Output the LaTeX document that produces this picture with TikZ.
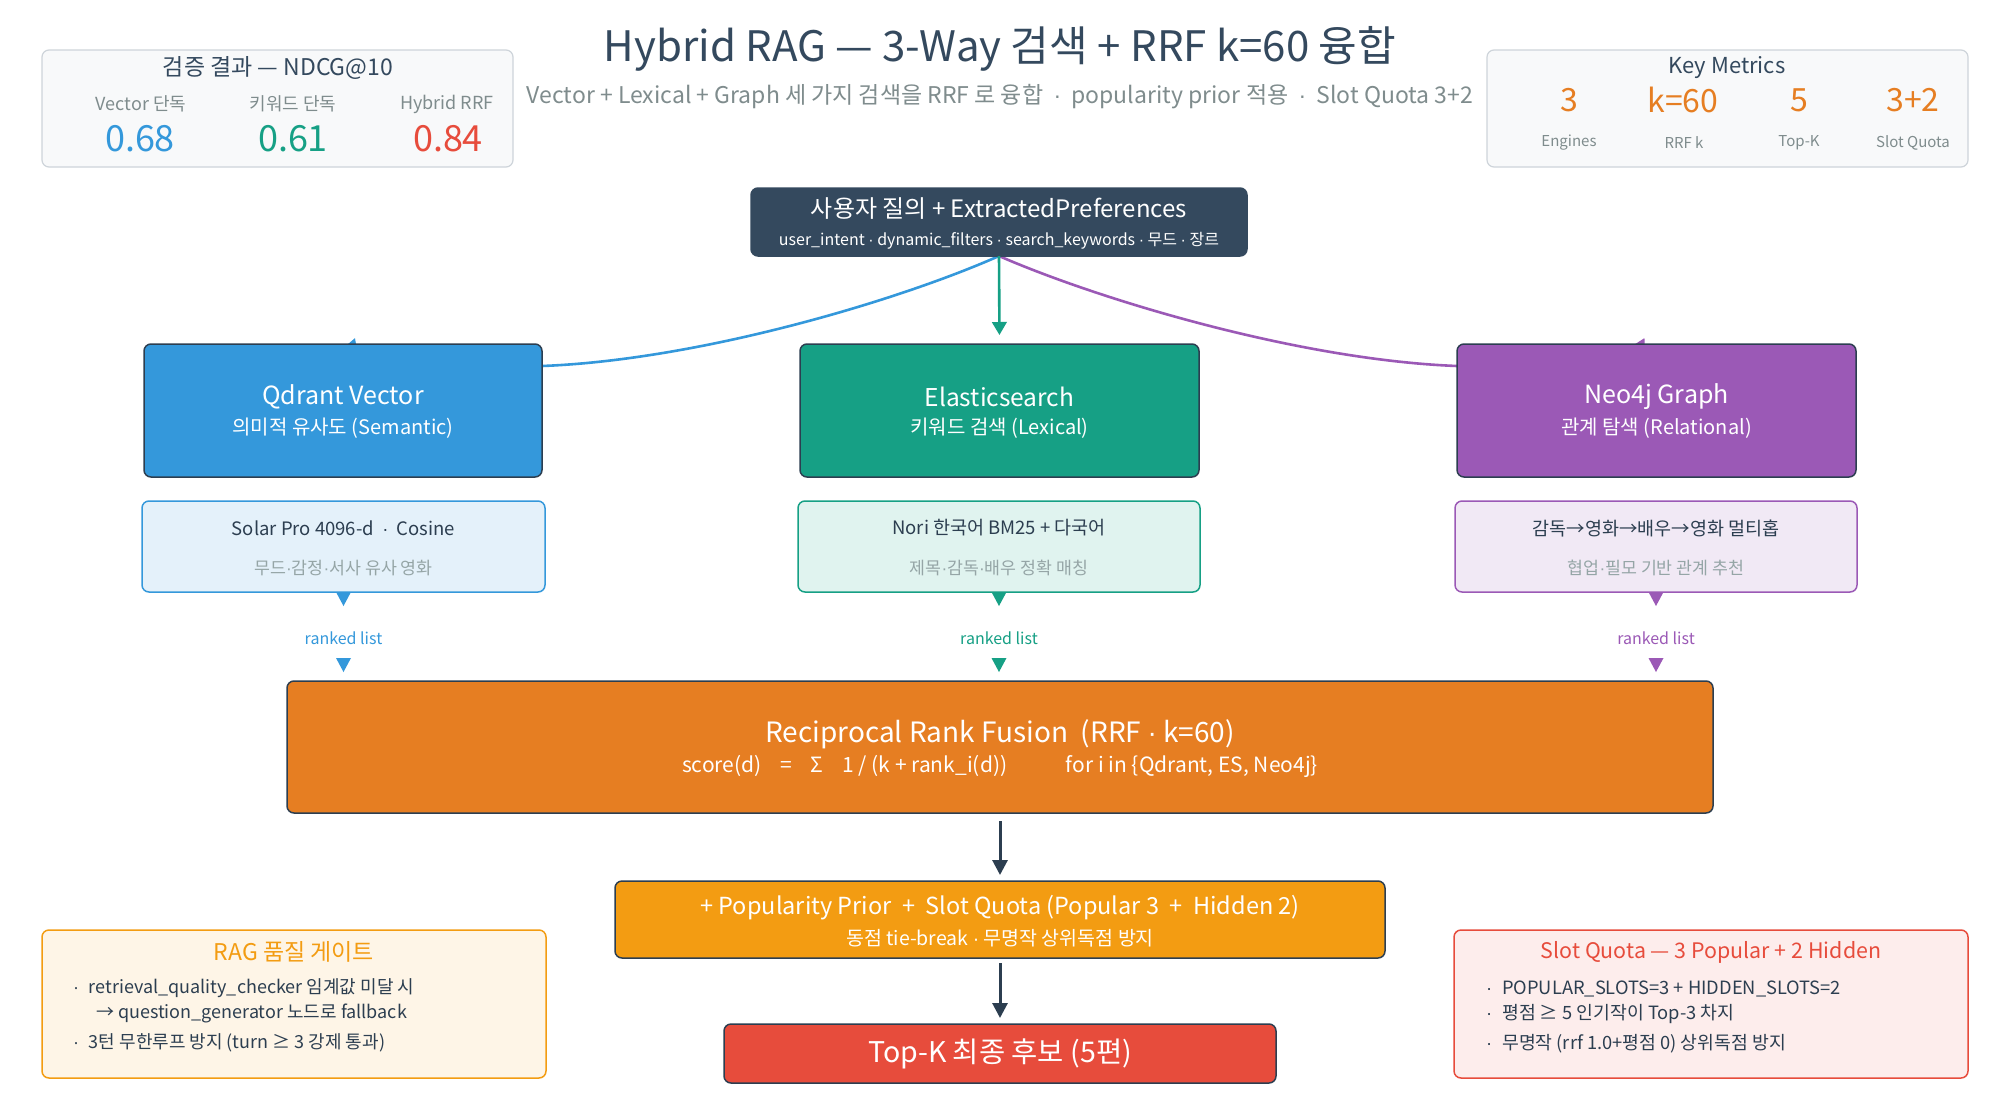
\documentclass[tikz,border=0pt]{standalone}
\usepackage{fontspec}
\setmainfont{Noto Sans CJK KR}
\newfontfamily\libfont{Liberation Sans}
\usetikzlibrary{arrows.meta}
\pgfdeclarelayer{bg}
\pgfsetlayers{bg,main}
\definecolor{cdark}{HTML}{2C3E50}
\definecolor{cnavy}{HTML}{34495E}
\definecolor{cgrey}{HTML}{7F8C8D}
\definecolor{clgrey}{HTML}{95A5A6}
\definecolor{cblue}{HTML}{3498DB}
\definecolor{cgreen}{HTML}{16A085}
\definecolor{cpurple}{HTML}{9B59B6}
\definecolor{corange}{HTML}{E67E22}
\definecolor{cyellow}{HTML}{F39C12}
\definecolor{cred}{HTML}{E74C3C}
\definecolor{cmfill}{HTML}{F8F9FA}
\definecolor{cmborder}{HTML}{CED4DA}
\definecolor{cbluel}{HTML}{E4F1FA}
\definecolor{cgreenl}{HTML}{E0F3EF}
\definecolor{cpurplel}{HTML}{F1E9F5}
\definecolor{cyellowl}{HTML}{FEF5E7}
\definecolor{credl}{HTML}{FDEDEC}
\newcommand\fsz[1]{\fontsize{#1}{#1}\selectfont}
\newcommand\mdot{{\libfont ·}}
\begin{document}
\begin{tikzpicture}[x=1pt,y=-1pt,
  box/.style={rounded corners=7pt, inner sep=0pt, outer sep=0pt, line width=1.5pt},
  txt/.style={inner sep=0pt, outer sep=0pt},
  bul/.style={inner sep=0pt, outer sep=0pt, anchor=west, text=cdark},
  rankarrow/.style={line width=0pt, -{Triangle[length=14pt,width=15pt]}},
  darkarrow/.style={draw=cdark, line width=3pt, -{Triangle[length=15pt,width=15pt]}},
  curve/.style={line width=2.6pt, -{Triangle[length=13pt,width=14pt]}}
]
\useasboundingbox (0,0) rectangle (2000,1119);
\begin{pgfonlayer}{bg}
\fill[white] (0,0) rectangle (2000,1119);
\end{pgfonlayer}

% title
\node[txt, text=cnavy] (title) at (1000,49) {\fsz{42}Hybrid RAG — 3-Way 검색 + RRF k=60 융합};
\node[txt, text=cgrey] (subtitle) at (1000,97) {\fsz{23}Vector + Lexical + Graph 세 가지 검색을 RRF 로 융합\ \ \mdot\ \ popularity prior 적용\ \ \mdot\ \ Slot Quota 3+2};

% left metrics
\node[box, draw=cmborder, line width=1.2pt, fill=cmfill, minimum width=471pt, minimum height=117pt] (m1) at (277.5,108.5) {};
\node[txt, text=cnavy] (m1t) at (278,68) {\fsz{23}검증 결과 — NDCG@10};
\node[txt, text=cgrey] (m1l1) at (141,104) {\fsz{18}Vector 단독};
\node[txt, text=cgrey] (m1l2) at (293,104) {\fsz{18}키워드 단독};
\node[txt, text=cgrey] (m1l3) at (447,104) {\fsz{18}Hybrid RRF};
\node[txt, text=cblue] (m1v1) at (140,139) {\fsz{36}0.68};
\node[txt, text=cgreen] (m1v2) at (293,139) {\fsz{36}0.61};
\node[txt, text=cred] (m1v3) at (448,139) {\fsz{36}0.84};

% right metrics
\node[box, draw=cmborder, line width=1.2pt, fill=cmfill, minimum width=481pt, minimum height=117pt] (m2) at (1727.5,108.5) {};
\node[txt, text=cnavy] (m2t) at (1727,68) {\fsz{22}Key Metrics};
\node[txt, text=corange] (m2v1) at (1569,100) {\fsz{32}3};
\node[txt, text=corange] (m2v2) at (1683,100) {\fsz{32}k=60};
\node[txt, text=corange] (m2v3) at (1799,100) {\fsz{32}5};
\node[txt, text=corange] (m2v4) at (1913,100) {\fsz{32}3+2};
\node[txt, text=cgrey] (m2l1) at (1569,143) {\fsz{15}Engines};
\node[txt, text=cgrey] (m2l2) at (1684,143) {\fsz{15}RRF k};
\node[txt, text=cgrey] (m2l3) at (1799,143) {\fsz{15}Top-K};
\node[txt, text=cgrey] (m2l4) at (1913,143) {\fsz{15}Slot Quota};

% query
\node[box, draw=cnavy, fill=cnavy, minimum width=496pt, minimum height=68pt] (q) at (999,222) {};
\node[txt, text=white] (qt1) at (999,209) {\fsz{24}사용자 질의 + ExtractedPreferences};
\node[txt, text=white] (qt2) at (999,241) {\fsz{16}user\_intent \mdot\ dynamic\_filters \mdot\ search\_keywords \mdot\ 무드 \mdot\ 장르};

% engines
\node[box, draw=cdark, fill=cblue, minimum width=398pt, minimum height=133pt] (qd) at (343,410.5) {};
\node[txt, text=white] (qdt1) at (343,397) {\fsz{25}Qdrant Vector};
\node[txt, text=white] (qdt2) at (343,428) {\fsz{20}의미적 유사도 (Semantic)};
\node[box, draw=cdark, fill=cgreen, minimum width=399pt, minimum height=133pt] (es) at (999.5,410.5) {};
\node[txt, text=white] (est1) at (999.5,397) {\fsz{24.5}Elasticsearch};
\node[txt, text=white] (est2) at (999.5,428) {\fsz{20}키워드 검색 (Lexical)};
\node[box, draw=cdark, fill=cpurple, minimum width=399pt, minimum height=133pt] (neo) at (1656.5,410.5) {};
\node[txt, text=white] (neot1) at (1656.5,397) {\fsz{25}Neo4j Graph};
\node[txt, text=white] (neot2) at (1656.5,428) {\fsz{20}관계 탐색 (Relational)};

% detail boxes
\node[box, draw=cblue, fill=cbluel, minimum width=403pt, minimum height=91pt] (d1) at (343.5,546.5) {};
\node[txt, text=cdark] (d1t1) at (343.5,528) {\fsz{18.5}Solar Pro 4096-d\ \ \mdot\ \ Cosine};
\node[txt, text=clgrey] (d1t2) at (343.5,568) {\fsz{17.3}무드\mdot 감정\mdot 서사 유사 영화};
\node[box, draw=cgreen, fill=cgreenl, minimum width=402pt, minimum height=91pt] (d2) at (999,546.5) {};
\node[txt, text=cdark] (d2t1) at (999,528) {\fsz{18.5}Nori 한국어 BM25 + 다국어};
\node[txt, text=clgrey] (d2t2) at (999,568) {\fsz{17.3}제목\mdot 감독\mdot 배우 정확 매칭};
\node[box, draw=cpurple, fill=cpurplel, minimum width=402pt, minimum height=91pt] (d3) at (1656,546.5) {};
\node[txt, text=cdark] (d3t1) at (1656,528) {\fsz{18.5}감독→영화→배우→영화 멀티홉};
\node[txt, text=clgrey] (d3t2) at (1656,568) {\fsz{17.3}협업\mdot 필모 기반 관계 추천};

% ranked list
\node[txt, text=cblue] (rl1) at (343.5,638) {\fsz{16}ranked list};
\node[txt, text=cgreen] (rl2) at (999,638) {\fsz{16}ranked list};
\node[txt, text=cpurple] (rl3) at (1656,638) {\fsz{16}ranked list};

% RRF
\node[box, draw=cdark, fill=corange, minimum width=1426pt, minimum height=132pt] (rrf) at (1000,747) {};
\node[txt, text=white] (rrft1) at (1000,734) {\fsz{28}Reciprocal Rank Fusion\ \ (RRF \mdot\ k=60)};
\node[txt, text=white] (rrft2) at (1000,766) {\fsz{21}score(d)\hspace{0.9em}=\hspace{0.9em}Σ\hspace{0.9em}1 / (k + rank\_i(d))\hspace{2.8em}for i in \{Qdrant, ES, Neo4j\}};

% popularity
\node[box, draw=cdark, fill=cyellow, minimum width=770pt, minimum height=77pt] (pop) at (1000,919.5) {};
\node[txt, text=white] (popt1) at (1000,908) {\fsz{23.5}+ Popularity Prior\ \ +\ \ Slot Quota (Popular 3\ \ +\ \ Hidden 2)};
\node[txt, text=white] (popt2) at (1000,938) {\fsz{19.5}동점 tie-break \mdot\ 무명작 상위독점 방지};

% top-k
\node[box, draw=cdark, fill=cred, minimum width=552pt, minimum height=59pt] (topk) at (1000,1053.5) {};
\node[txt, text=white] (topkt) at (1000,1054) {\fsz{28.5}Top-K 최종 후보 (5편)};

% RAG gate
\node[box, draw=cyellow, fill=cyellowl, minimum width=504pt, minimum height=148pt] (rag) at (294,1004) {};
\node[txt, text=cyellow] (ragt) at (294,952) {\fsz{23}RAG 품질 게이트};
\node[bul] (ragb1) at (73,988) {\fsz{18}\mdot\hspace{0.55em}retrieval\_quality\_checker 임계값 미달 시};
\node[bul] (ragb2) at (96,1013) {\fsz{18}→ question\_generator 노드로 fallback};
\node[bul] (ragb3) at (73,1043) {\fsz{18}\mdot\hspace{0.55em}3턴 무한루프 방지 (turn ≥ 3 강제 통과)};

% slot quota
\node[box, draw=cred, fill=credl, minimum width=514pt, minimum height=148pt] (slot) at (1711,1004) {};
\node[txt, text=cred] (slott) at (1711,952) {\fsz{21.4}Slot Quota — 3 Popular + 2 Hidden};
\node[bul] (slotb1) at (1486,989) {\fsz{18.3}\mdot\hspace{0.55em}POPULAR\_SLOTS=3 + HIDDEN\_SLOTS=2};
\node[bul] (slotb2) at (1486,1014) {\fsz{18.3}\mdot\hspace{0.55em}평점 ≥ 5 인기작이 Top-3 차지};
\node[bul] (slotb3) at (1486,1044) {\fsz{18.3}\mdot\hspace{0.55em}무명작 (rrf 1.0+평점 0) 상위독점 방지};

% connectors
\begin{pgfonlayer}{bg}
\draw[curve, draw=cblue] (q.south) .. controls (900,300) and (700,360) .. (qd.east |- 0,366) .. controls (430,368) and (345,366) .. ([xshift=12pt,yshift=6pt]qd.north);
\draw[curve, draw=cpurple] (q.south) .. controls (1100,300) and (1300,360) .. (neo.west |- 0,366) .. controls (1570,368) and (1630,366) .. ([xshift=-12pt,yshift=6pt]neo.north);
\end{pgfonlayer}
\draw[curve, draw=cgreen, -{Triangle[length=13pt,width=14.5pt]}, shorten >=9pt] (q.south) -- (es.north);

\draw[rankarrow, draw=cblue, fill=cblue] (d1.south) -- ++(0,14);
\draw[rankarrow, draw=cgreen, fill=cgreen] (d2.south) -- ++(0,14);
\draw[rankarrow, draw=cpurple, fill=cpurple] (d3.south) -- ++(0,14);
\draw[rankarrow, draw=cblue, fill=cblue] ([yshift=-20pt]rl1.center) -- ([yshift=-34pt]rl1.center);
\draw[rankarrow, draw=cgreen, fill=cgreen] ([yshift=-20pt]rl2.center) -- ([yshift=-34pt]rl2.center);
\draw[rankarrow, draw=cpurple, fill=cpurple] ([yshift=-20pt]rl3.center) -- ([yshift=-34pt]rl3.center);

\draw[darkarrow, shorten <=8pt, shorten >=6pt] (rrf.south) -- (pop.north);
\draw[darkarrow, shorten <=5pt, shorten >=6pt] (pop.south) -- (topk.north);
\end{tikzpicture}
\end{document}
